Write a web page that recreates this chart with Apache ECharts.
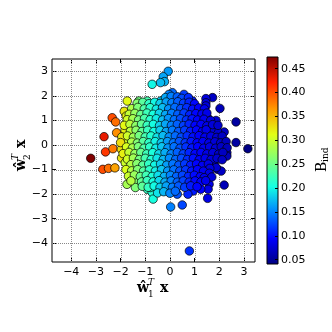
<!DOCTYPE html>
<html>
<head>
<meta charset="utf-8">
<script src="https://cdn.jsdelivr.net/npm/echarts@6/dist/echarts.min.js"></script>
<style>
  html, body { margin: 0; padding: 0; background: #fff; }
  #chart { width: 332px; height: 332px; }
</style>
</head>
<body>
<div id="chart"></div>
<script>
// tick labels
var xTicks = [-4, -3, -2, -1, 0, 1, 2, 3];
var yTicks = [-4, -3, -2, -1, 0, 1, 2, 3];
var cbTicks = [0.05, 0.10, 0.15, 0.20, 0.25, 0.30, 0.35, 0.40, 0.45];

// colour range of B_ind
var bMin = 0.041;
var bMax = 0.4745;

// jet colormap
var jet = ['#000080', '#0000ff', '#0080ff', '#15ffe2', '#7bff7b', '#e2ff15', '#ff9700', '#ff2100', '#800000'];

// [w1^T x, w2^T x, B_ind]
var points = [
  // outer points
  [-3.21, -0.54, 0.474], [-2.67, 0.34, 0.43], [-2.34, 1.11, 0.40], [-2.20, 0.94, 0.385],
  [-2.16, 0.50, 0.37], [-2.61, -0.28, 0.41], [-2.31, -0.15, 0.38], [-2.72, -0.99, 0.40],
  [-2.49, -0.95, 0.385], [-2.23, -0.93, 0.36], [-1.73, 1.79, 0.315], [-1.85, 1.37, 0.325],
  [-1.77, 1.18, 0.32], [-1.82, 0.61, 0.32], [-1.97, -0.17, 0.33], [-1.96, -0.53, 0.325],
  [-1.75, 0.18, 0.305], [-1.81, -0.72, 0.30], [-1.74, -1.60, 0.28], [-1.37, -1.53, 0.265],
  [-1.40, -1.73, 0.26], [-0.91, -1.80, 0.22], [-0.72, -1.93, 0.21], [-0.68, -2.20, 0.205],
  [0.03, -2.52, 0.15], [0.50, -2.44, 0.125], [0.79, -4.31, 0.115], [2.20, -1.63, 0.065],
  [1.53, -2.17, 0.085], [1.59, -1.60, 0.085], [1.55, -1.80, 0.085], [1.25, -1.80, 0.095],
  [0.94, -1.87, 0.105], [0.73, -2.00, 0.11], [-0.07, 3.00, 0.16], [-0.27, 2.78, 0.165],
  [-0.22, 2.58, 0.17], [-0.38, 2.54, 0.175], [-0.72, 2.47, 0.20], [1.73, 1.93, 0.07],
  [1.46, 1.89, 0.08], [1.46, 1.72, 0.08], [2.03, 1.49, 0.065], [2.68, 0.94, 0.055],
  [2.68, 0.10, 0.055], [3.16, -0.15, 0.043], [2.31, -0.31, 0.065], [2.31, -0.45, 0.065],
  [2.20, 0.53, 0.07], [1.93, 0.57, 0.075], [1.66, 0.64, 0.08], [1.25, 1.11, 0.09],
  [1.53, 1.11, 0.085], [1.87, 1.00, 0.075], [0.91, 1.79, 0.105], [0.57, 2.06, 0.12],
  [0.10, 2.13, 0.14], [0.98, 1.25, 0.10], [1.80, -0.78, 0.075], [1.93, -0.99, 0.075],
  [2.08, -1.06, 0.07], [1.88, -0.92, 0.075], [0.30, -2.00, 0.13], [-0.92, 1.79, 0.23],
  [-0.04, 2.06, 0.15], [-0.38, 1.79, 0.18], [-1.26, 1.79, 0.255], [-1.06, 1.59, 0.24],
  [-1.20, 1.32, 0.25], [1.46, 1.59, 0.082], [-0.79, -1.73, 0.214], [-0.51, -1.60, 0.192],
  [-0.38, -1.73, 0.183],
  // core
  [-0.18, 1.93, 0.166], [0.05, 1.98, 0.15], [0.30, 1.96, 0.136], [0.48, 1.90, 0.126], [0.75, 1.93, 0.113],
  [-1.33, 1.70, 0.263], [-1.10, 1.74, 0.24], [-0.85, 1.68, 0.218], [-0.62, 1.74, 0.20], [-0.40, 1.69, 0.183],
  [-0.15, 1.75, 0.163], [0.08, 1.72, 0.148], [0.32, 1.76, 0.135], [0.55, 1.70, 0.122], [0.78, 1.74, 0.11],
  [1.00, 1.68, 0.098],
  [-1.55, 1.48, 0.285], [-1.30, 1.53, 0.26], [-1.04, 1.47, 0.234], [-0.80, 1.52, 0.214], [-0.55, 1.46, 0.195],
  [-0.30, 1.52, 0.175], [-0.05, 1.47, 0.156], [0.20, 1.53, 0.141], [0.44, 1.48, 0.128], [0.68, 1.52, 0.115],
  [0.92, 1.46, 0.102], [1.17, 1.51, 0.094], [1.40, 1.47, 0.088],
  [-1.65, 1.25, 0.295], [-1.42, 1.29, 0.272], [-1.18, 1.24, 0.248], [-0.93, 1.30, 0.225], [-0.68, 1.25, 0.205],
  [-0.43, 1.29, 0.185], [-0.18, 1.24, 0.166], [0.07, 1.29, 0.148], [0.32, 1.25, 0.135], [0.57, 1.30, 0.121],
  [0.80, 1.23, 0.109], [1.05, 1.28, 0.097], [1.30, 1.26, 0.091], [1.50, 1.30, 0.086],
  [-1.73, 1.03, 0.303], [-1.50, 1.07, 0.28], [-1.27, 1.02, 0.257], [-1.03, 1.08, 0.233], [-0.80, 1.03, 0.214],
  [-0.55, 1.07, 0.195], [-0.30, 1.02, 0.175], [-0.06, 1.08, 0.157], [0.18, 1.03, 0.142], [0.43, 1.07, 0.128],
  [0.67, 1.02, 0.116], [0.90, 1.06, 0.103], [1.12, 1.02, 0.095], [1.38, 1.05, 0.088], [1.65, 1.00, 0.082],
  [-1.85, 0.80, 0.315], [-1.62, 0.84, 0.292], [-1.38, 0.79, 0.268], [-1.15, 0.85, 0.245], [-0.92, 0.80, 0.222],
  [-0.67, 0.84, 0.204], [-0.42, 0.79, 0.185], [-0.18, 0.85, 0.166], [0.06, 0.80, 0.149], [0.30, 0.84, 0.136],
  [0.55, 0.79, 0.122], [0.78, 0.85, 0.11], [1.02, 0.80, 0.097], [1.26, 0.84, 0.092], [1.50, 0.78, 0.086],
  [1.73, 0.83, 0.08], [1.95, 0.80, 0.074],
  [-1.60, 0.56, 0.29], [-1.37, 0.60, 0.267], [-1.13, 0.55, 0.243], [-0.90, 0.60, 0.222], [-0.65, 0.55, 0.203],
  [-0.40, 0.60, 0.183], [-0.15, 0.55, 0.164], [0.10, 0.60, 0.147], [0.35, 0.55, 0.133], [0.60, 0.60, 0.12],
  [0.84, 0.56, 0.106], [1.08, 0.61, 0.096], [1.32, 0.55, 0.09], [1.47, 0.62, 0.086],
  [-1.95, 0.33, 0.325], [-1.72, 0.37, 0.302], [-1.48, 0.32, 0.278], [-1.25, 0.38, 0.255], [-1.00, 0.33, 0.23],
  [-0.77, 0.37, 0.211], [-0.52, 0.32, 0.192], [-0.28, 0.38, 0.174], [-0.03, 0.33, 0.155], [0.22, 0.37, 0.14],
  [0.46, 0.32, 0.127], [0.70, 0.37, 0.114], [0.94, 0.33, 0.101], [1.18, 0.38, 0.093], [1.42, 0.32, 0.088],
  [1.66, 0.36, 0.082], [1.90, 0.31, 0.076], [2.12, 0.36, 0.07],
  [-2.00, 0.10, 0.33], [-1.55, 0.12, 0.285], [-1.32, 0.08, 0.262], [-1.08, 0.14, 0.238], [-0.85, 0.09, 0.218],
  [-0.60, 0.14, 0.198], [-0.35, 0.09, 0.18], [-0.10, 0.14, 0.16], [0.14, 0.09, 0.144], [0.38, 0.14, 0.131],
  [0.62, 0.09, 0.118], [0.86, 0.14, 0.105], [1.10, 0.09, 0.095], [1.34, 0.14, 0.09], [1.58, 0.08, 0.084],
  [1.82, 0.13, 0.078], [2.06, 0.09, 0.072], [2.28, 0.14, 0.067],
  [-1.76, -0.08, 0.306], [-1.52, -0.12, 0.282], [-1.28, -0.07, 0.258], [-1.05, -0.13, 0.235], [-0.82, -0.08, 0.216],
  [-0.57, -0.13, 0.196], [-0.33, -0.07, 0.178], [-0.08, -0.12, 0.158], [0.17, -0.07, 0.143], [0.41, -0.13, 0.13],
  [0.65, -0.08, 0.116], [0.89, -0.12, 0.104], [1.13, -0.07, 0.095], [1.37, -0.13, 0.089], [1.61, -0.08, 0.083],
  [1.85, -0.13, 0.077], [2.08, -0.07, 0.071], [2.32, -0.11, 0.066],
  [-1.90, -0.35, 0.32], [-1.66, -0.30, 0.296], [-1.42, -0.35, 0.272], [-1.18, -0.30, 0.248], [-0.94, -0.36, 0.225],
  [-0.70, -0.31, 0.207], [-0.45, -0.36, 0.187], [-0.20, -0.31, 0.168], [0.05, -0.36, 0.15], [0.30, -0.30, 0.136],
  [0.54, -0.36, 0.123], [0.78, -0.31, 0.11], [1.02, -0.35, 0.097], [1.26, -0.30, 0.092], [1.50, -0.36, 0.086],
  [1.74, -0.31, 0.08], [1.98, -0.37, 0.074], [2.15, -0.30, 0.069],
  [-1.72, -0.58, 0.302], [-1.48, -0.53, 0.278], [-1.24, -0.59, 0.254], [-1.00, -0.54, 0.23], [-0.76, -0.59, 0.211],
  [-0.52, -0.54, 0.192], [-0.27, -0.59, 0.173], [-0.02, -0.54, 0.154], [0.23, -0.59, 0.139], [0.47, -0.54, 0.127],
  [0.71, -0.59, 0.114], [0.95, -0.54, 0.101], [1.19, -0.60, 0.093], [1.43, -0.54, 0.087], [1.67, -0.59, 0.081],
  [1.91, -0.54, 0.075], [2.12, -0.60, 0.07],
  [-1.58, -0.80, 0.288], [-1.34, -0.76, 0.264], [-1.10, -0.82, 0.24], [-0.86, -0.77, 0.219], [-0.62, -0.82, 0.20],
  [-0.38, -0.77, 0.182], [-0.13, -0.82, 0.162], [0.12, -0.77, 0.145], [0.36, -0.82, 0.132], [0.60, -0.77, 0.119],
  [0.84, -0.82, 0.106], [1.08, -0.77, 0.096], [1.32, -0.83, 0.09], [1.56, -0.77, 0.084], [1.62, -0.95, 0.082],
  [-1.78, -1.00, 0.308], [-1.55, -1.05, 0.285], [-1.31, -1.00, 0.261], [-1.07, -1.06, 0.237], [-0.83, -1.01, 0.217],
  [-0.59, -1.06, 0.198], [-0.34, -1.00, 0.179], [-0.09, -1.06, 0.159], [0.16, -1.01, 0.143], [0.40, -1.06, 0.13],
  [0.64, -1.01, 0.117], [0.88, -1.06, 0.104], [1.12, -1.00, 0.095], [1.36, -1.06, 0.089], [1.60, -1.15, 0.083],
  [-1.68, -1.27, 0.298], [-1.44, -1.22, 0.274], [-1.20, -1.28, 0.25], [-0.96, -1.23, 0.227], [-0.72, -1.28, 0.208],
  [-0.48, -1.23, 0.189], [-0.23, -1.28, 0.17], [0.02, -1.23, 0.151], [0.27, -1.28, 0.137], [0.51, -1.23, 0.124],
  [0.75, -1.28, 0.111], [0.99, -1.23, 0.099], [1.23, -1.29, 0.092], [1.39, -1.33, 0.088], [1.70, -1.30, 0.08],
  [-1.58, -1.46, 0.288], [-1.15, -1.50, 0.245], [-0.92, -1.45, 0.222], [-0.68, -1.50, 0.205], [-0.44, -1.45, 0.186],
  [-0.20, -1.51, 0.168], [0.05, -1.46, 0.15], [0.30, -1.51, 0.136], [0.54, -1.46, 0.123], [0.78, -1.51, 0.11],
  [1.02, -1.46, 0.097], [1.26, -1.50, 0.092], [1.45, -1.45, 0.087],
  [-1.12, -1.68, 0.242], [-0.88, -1.72, 0.22], [-0.64, -1.67, 0.202], [-0.40, -1.72, 0.183], [-0.15, -1.67, 0.164],
  [0.10, -1.72, 0.147], [0.35, -1.67, 0.133], [0.60, -1.72, 0.12], [0.84, -1.66, 0.106], [1.10, -1.70, 0.096],
  [-0.50, -1.95, 0.191], [-0.25, -1.90, 0.172], [0.00, -1.96, 0.152], [0.22, -1.88, 0.14]
];

var minus = function (v) { return String(v).replace('-', '\u2212'); };
var tickFont = { color: '#000', fontSize: 11, fontFamily: 'DejaVu Sans' };
var jetStops = jet.map(function (c, i) { return { offset: i / (jet.length - 1), color: c }; });
var noLine = { show: false, onZero: false };

var chart = echarts.init(document.getElementById('chart'));

chart.setOption({
  animation: false,
  grid: [
    { left: 52, top: 59, width: 203, height: 203, show: true, borderColor: '#000', borderWidth: 1, backgroundColor: 'transparent' },
    // colorbar
    { left: 267, top: 57, width: 11, height: 207, show: true, borderColor: '#000', borderWidth: 1,
      backgroundColor: { type: 'linear', x: 0, y: 1, x2: 0, y2: 0, colorStops: jetStops } }
  ],
  xAxis: [
    {
      gridIndex: 0, type: 'value', min: -4.78, max: 3.45, position: 'bottom',
      axisLine: noLine,
      axisTick: { inside: true, length: 4, customValues: xTicks, lineStyle: { color: '#000' } },
      axisLabel: Object.assign({ customValues: xTicks, margin: 5, formatter: minus }, tickFont),
      splitLine: { show: false }
    },
    {
      gridIndex: 0, type: 'value', min: -4.78, max: 3.45, position: 'top',
      axisLine: noLine,
      axisTick: { inside: true, length: 4, customValues: xTicks, lineStyle: { color: '#000' } },
      axisLabel: { show: false }, splitLine: { show: false }
    },
    { gridIndex: 1, type: 'value', show: false, min: 0, max: 1 }
  ],
  yAxis: [
    {
      gridIndex: 0, type: 'value', min: -4.76, max: 3.5, position: 'left',
      axisLine: noLine,
      axisTick: { inside: true, length: 4, customValues: yTicks, lineStyle: { color: '#000' } },
      axisLabel: Object.assign({ customValues: yTicks, margin: 4, formatter: minus }, tickFont),
      splitLine: { show: false }
    },
    {
      gridIndex: 0, type: 'value', min: -4.76, max: 3.5, position: 'right',
      axisLine: noLine,
      axisTick: { inside: true, length: 4, customValues: yTicks, lineStyle: { color: '#000' } },
      axisLabel: { show: false }, splitLine: { show: false }
    },
    {
      gridIndex: 1, type: 'value', min: bMin, max: bMax, position: 'right',
      axisLine: noLine,
      axisTick: { inside: true, length: 3, customValues: cbTicks, lineStyle: { color: '#000' } },
      axisLabel: Object.assign({ customValues: cbTicks, margin: 3, formatter: function (v) { return v.toFixed(2); } }, tickFont),
      splitLine: { show: false }
    }
  ],
  visualMap: {
    type: 'continuous', show: false, seriesIndex: 0, dimension: 2,
    min: bMin, max: bMax, inRange: { color: jet }
  },
  series: [
    {
      type: 'scatter',
      xAxisIndex: 0, yAxisIndex: 0, z: 3,
      data: points,
      symbolSize: 8.5,
      itemStyle: { borderColor: '#000', borderWidth: 0.7, opacity: 1 }
    }
  ]
});

// dotted grid at the tick positions, placed through the axes
var gridEls = [];
var top0 = 59, bottom0 = 262, left0 = 52, right0 = 255;
var dotted = { stroke: '#888', lineWidth: 1, lineDash: 'dotted' };
xTicks.forEach(function (v) {
  var px = Math.round(chart.convertToPixel({ xAxisIndex: 0 }, v)) + 0.5;
  gridEls.push({ type: 'line', z: 1, silent: true,
    shape: { x1: px, y1: top0, x2: px, y2: bottom0 }, style: dotted });
});
yTicks.forEach(function (v) {
  var py = Math.round(chart.convertToPixel({ yAxisIndex: 0 }, v)) + 0.5;
  gridEls.push({ type: 'line', z: 1, silent: true,
    shape: { x1: left0, y1: py, x2: right0, y2: py }, style: dotted });
});

var labelEls = [
  { type: 'group', x: 137, y: 288, children: [
    { type: 'text', x: 0, y: 0, style: { text: '\u0175', font: 'bold 14px "DejaVu Serif"', fill: '#000', verticalAlign: 'middle' } },
    { type: 'text', x: 11, y: -5, style: { text: 'T', font: 'italic 9px "DejaVu Serif"', fill: '#000', verticalAlign: 'middle' } },
    { type: 'text', x: 11, y: 7, style: { text: '1', font: '9px "DejaVu Serif"', fill: '#000', verticalAlign: 'middle' } },
    { type: 'text', x: 23, y: 0, style: { text: 'x', font: 'bold 14px "DejaVu Serif"', fill: '#000', verticalAlign: 'middle' } }
  ] },
  { type: 'group', x: 21, y: 171, rotation: Math.PI / 2, children: [
    { type: 'text', x: 0, y: 0, style: { text: '\u0175', font: 'bold 14px "DejaVu Serif"', fill: '#000', verticalAlign: 'middle' } },
    { type: 'text', x: 11, y: -5, style: { text: 'T', font: 'italic 9px "DejaVu Serif"', fill: '#000', verticalAlign: 'middle' } },
    { type: 'text', x: 11, y: 7, style: { text: '2', font: '9px "DejaVu Serif"', fill: '#000', verticalAlign: 'middle' } },
    { type: 'text', x: 23, y: 0, style: { text: 'x', font: 'bold 14px "DejaVu Serif"', fill: '#000', verticalAlign: 'middle' } }
  ] },
  { type: 'group', x: 322, y: 172, rotation: Math.PI / 2, children: [
    { type: 'text', x: 0, y: 0, style: { text: 'B', font: '14px "DejaVu Serif"', fill: '#000', verticalAlign: 'middle' } },
    { type: 'text', x: 10, y: 4, style: { text: 'ind', font: '9px "DejaVu Serif"', fill: '#000', verticalAlign: 'middle' } }
  ] }
];

chart.setOption({ graphic: { elements: gridEls.concat(labelEls) } });
</script>
</body>
</html>
